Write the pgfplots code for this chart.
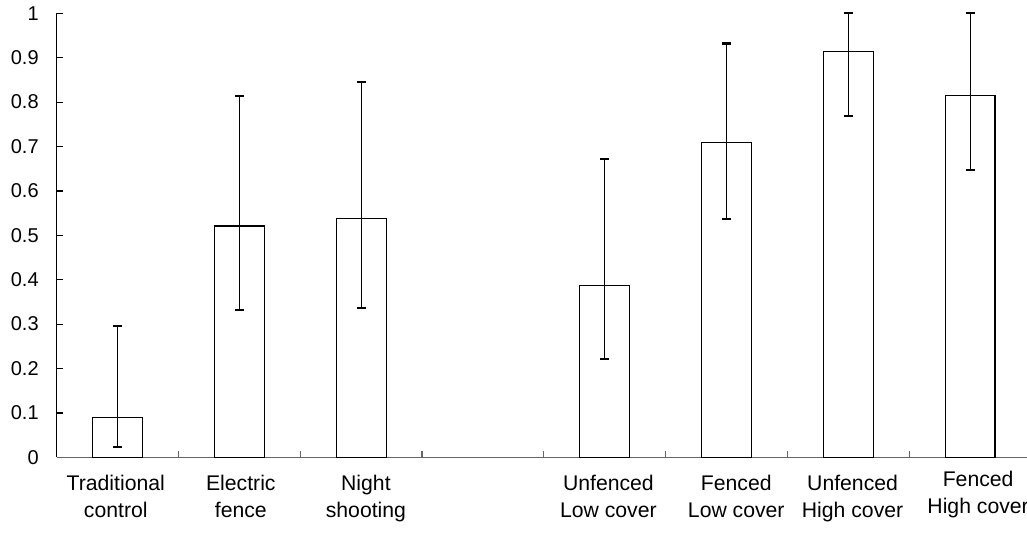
\documentclass[border=0pt]{standalone}
\usepackage{pgfplots}
\pgfplotsset{compat=1.18}
\usepackage{fontspec}
\setmainfont{Liberation Sans}
\begin{document}
\begin{tikzpicture}
\begin{axis}[
  at={(0,0)}, anchor=south west,
  scale only axis, width=487.15pt, height=222pt,
  xmin=-0.5, xmax=7.5, ymin=0, ymax=1,
  axis x line=bottom, axis y line=left, axis line style={-},
  x axis line style={draw=black!60},
  y axis line style={draw=black, line width=0.6pt},
  tick align=inside,
  major tick length=3pt, minor tick length=3pt,
  ytick={0,0.1,0.2,0.3,0.4,0.5,0.6,0.7,0.8,0.9,1},
  yticklabels={0,0.1,0.2,0.3,0.4,0.5,0.6,0.7,0.8,0.9,1},
  ytick style={draw=black, line width=0.6pt},
  yticklabel style={font=\fontsize{10}{12}\selectfont, xshift=-5.5pt},
  xtick={-0.015,1.012,2.039,4.03,5.08,6.035},
  xticklabels={Traditional\\control, Electric\\fence, Night\\shooting, Unfenced\\Low cover, Fenced\\Low cover, Unfenced\\High cover},
  xticklabel style={align=center, font=\fontsize{10.6}{13.2}\selectfont, yshift=-5.5pt},
  major x tick style={draw=none},
  extra x ticks={7.066},
  extra x tick labels={Fenced\\High cover},
  extra x tick style={tick style={draw=none}, tick label style={yshift=2pt}},
  minor xtick={0.5,1.5,2.5,3.5,4.5,5.5,6.5},
  minor x tick style={draw=black!60, line width=0.6pt},
  /pgf/number format/assume math mode=true,
  clip=false,
]
\addplot[ybar, bar width=0.41, fill=white, draw=black, line width=0.6pt,
  error bars/.cd, y dir=both, y explicit,
  error mark=|,
  error bar style={line width=0.5pt, black},
  error mark options={line width=1.1pt, mark size=2.25pt, black}]
coordinates {
  (0,0.089) += (0,0.206) -= (0,0.065)
  (1,0.521) += (0,0.292) -= (0,0.190)
  (2,0.537) += (0,0.308) -= (0,0.200)
  (4,0.387) += (0,0.285) -= (0,0.166)
  (5,0.709) += (0,0.223) -= (0,0.172)
  (6,0.914) += (0,0.086) -= (0,0.145)
  (7,0.814) += (0,0.186) -= (0,0.167)
};
\end{axis}
\pgfresetboundingbox
\useasboundingbox (-28.35pt,-39.35pt) rectangle (485.15pt,228.65pt);
\end{tikzpicture}
\end{document}
